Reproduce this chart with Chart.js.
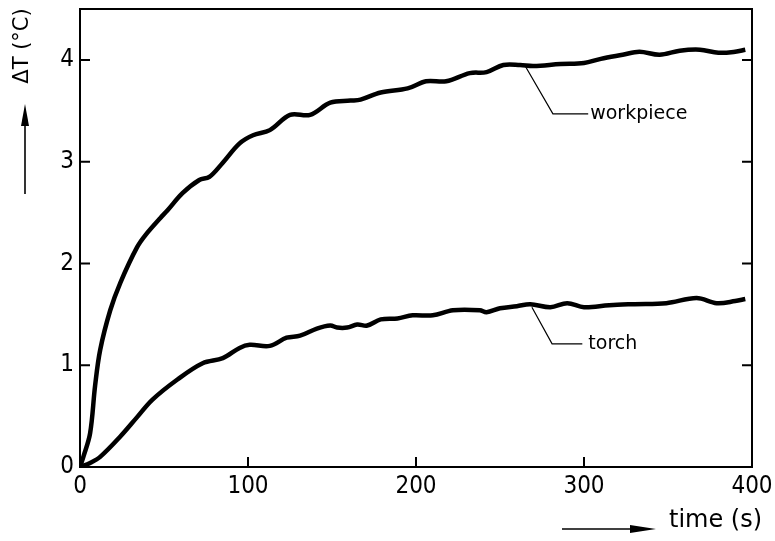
<!DOCTYPE html>
<html>
<head>
<meta charset="utf-8">
<script src="https://cdn.jsdelivr.net/npm/chart.js@4/dist/chart.umd.min.js"></script>
<style>
  html, body { margin: 0; padding: 0; background: #fff; }
  #wrap { width: 775px; height: 541px; }
</style>
</head>
<body>
<div id="wrap"><canvas id="myChart" width="775" height="541"></canvas></div>
<script>
// time (s) and temperature rise (°C)
const workTime = [0, 2, 6, 9, 12, 18, 24, 34, 40, 48, 52, 61, 71, 77, 85, 95, 103, 113, 125, 137, 149, 161, 167, 179, 195, 206, 218, 232, 242, 252, 262, 270, 286, 300, 310, 323, 333, 345, 357, 369, 380, 390, 396];
const workTemp = [0, 0.1, 0.33, 0.8, 1.15, 1.54, 1.81, 2.16, 2.3, 2.45, 2.52, 2.69, 2.82, 2.85, 2.99, 3.18, 3.26, 3.31, 3.46, 3.46, 3.58, 3.6, 3.61, 3.68, 3.72, 3.79, 3.79, 3.87, 3.88, 3.95, 3.95, 3.94, 3.96, 3.97, 4.01, 4.05, 4.08, 4.05, 4.09, 4.1, 4.07, 4.08, 4.1];

const torchTime = [0, 6, 12, 24, 34, 43, 58, 73, 85, 95, 101, 113, 123, 131, 141, 149, 153, 159, 165, 171, 179, 189, 198, 210, 222, 238, 242, 250, 260, 268, 280, 290, 300, 315, 330, 349, 367, 379, 390, 396];
const torchTemp = [0, 0.04, 0.1, 0.3, 0.49, 0.66, 0.86, 1.02, 1.07, 1.17, 1.2, 1.19, 1.27, 1.29, 1.36, 1.39, 1.37, 1.37, 1.4, 1.39, 1.45, 1.46, 1.49, 1.49, 1.54, 1.54, 1.52, 1.56, 1.58, 1.6, 1.57, 1.61, 1.57, 1.59, 1.6, 1.61, 1.66, 1.61, 1.63, 1.65];

const xTicks = [100, 200, 300];
const yTicks = [1, 2, 3, 4];

// curve labels with leader lines: [from curve] -> [knee] -> [end of line]
const curveLabels = [
  { text: 'workpiece', gap: 2, pts: [[265, 3.94], [281.5, 3.47], [302.5, 3.47]] },
  { text: 'torch', gap: 6, pts: [[269, 1.57], [281, 1.21], [299, 1.21]] }
];

const FONT = '"DejaVu Sans", sans-serif';
const TICKFONT = '"DejaVu Sans Condensed", "DejaVu Sans", sans-serif';

function toXY(xs, ys) {
  return xs.map((x, i) => ({ x: x, y: ys[i] }));
}

function noPad(scale) {
  scale.paddingTop = 0;
  scale.paddingBottom = 0;
  scale.paddingLeft = 0;
  scale.paddingRight = 0;
}

const decor = {
  id: 'decor',
  afterDraw(chart) {
    const c = chart.ctx;
    const a = chart.chartArea;
    const sx = chart.scales.x;
    const sy = chart.scales.y;
    c.save();
    c.strokeStyle = '#000';
    c.fillStyle = '#000';

    // frame
    c.lineWidth = 2;
    c.strokeRect(a.left, a.top, a.right - a.left, a.bottom - a.top);

    // inward ticks
    c.beginPath();
    yTicks.forEach(v => {
      const py = sy.getPixelForValue(v);
      c.moveTo(a.left, py); c.lineTo(a.left + 10, py);
      c.moveTo(a.right, py); c.lineTo(a.right - 10, py);
    });
    xTicks.forEach(v => {
      const px = sx.getPixelForValue(v);
      c.moveTo(px, a.bottom); c.lineTo(px, a.bottom - 10);
    });
    c.stroke();

    // leader lines + labels
    c.lineWidth = 1.2;
    c.font = '19px ' + FONT;
    c.textBaseline = 'middle';
    curveLabels.forEach(l => {
      c.beginPath();
      l.pts.forEach((p, i) => {
        const px = sx.getPixelForValue(p[0]);
        const py = sy.getPixelForValue(p[1]);
        if (i === 0) c.moveTo(px, py); else c.lineTo(px, py);
      });
      c.stroke();
      const last = l.pts[l.pts.length - 1];
      c.fillText(l.text, sx.getPixelForValue(last[0]) + l.gap, sy.getPixelForValue(last[1]));
    });

    // y axis title, rotated, with arrow below it
    c.save();
    c.translate(23, 46);
    c.rotate(-Math.PI / 2);
    c.textAlign = 'center';
    c.textBaseline = 'middle';
    c.font = '21px ' + FONT;
    c.fillText('ΔT (°C)', 0, 0);
    c.restore();

    c.lineWidth = 1.6;
    c.beginPath();
    c.moveTo(25, 194); c.lineTo(25, 118);
    c.stroke();
    c.beginPath();
    c.moveTo(25, 104); c.lineTo(21, 126); c.lineTo(29, 126);
    c.closePath(); c.fill();

    // x axis title with arrow
    c.beginPath();
    c.moveTo(562, 529); c.lineTo(635, 529);
    c.stroke();
    c.beginPath();
    c.moveTo(656, 529); c.lineTo(630, 525); c.lineTo(630, 533);
    c.closePath(); c.fill();

    c.font = '24px ' + FONT;
    c.textAlign = 'left';
    c.textBaseline = 'middle';
    c.fillText('time (s)', 669, 521);
    c.restore();
  }
};

const ctx = document.getElementById('myChart');
let myChart = new Chart(ctx, {
  type: 'line',
  data: {
    datasets: [{
      label: 'workpiece',
      data: toXY(workTime, workTemp),
      borderColor: '#000',
      borderWidth: 4.5,
      pointRadius: 0,
      tension: 0.35,
      fill: false
    }, {
      label: 'torch',
      data: toXY(torchTime, torchTemp),
      borderColor: '#000',
      borderWidth: 4.5,
      pointRadius: 0,
      tension: 0.35,
      fill: false
    }]
  },
  options: {
    responsive: false,
    animation: false,
    devicePixelRatio: 1,
    layout: { padding: { top: 9, right: 23, left: 0, bottom: 0 } },
    plugins: {
      legend: { display: false },
      tooltip: { enabled: false }
    },
    scales: {
      x: {
        type: 'linear',
        min: 0,
        max: 400,
        grid: { display: false, drawTicks: false },
        border: { display: false },
        ticks: {
          stepSize: 100,
          padding: 5,
          color: '#000',
          font: { family: TICKFONT, size: 24 },
          maxRotation: 0
        },
        afterFit(scale) { scale.height = 74; noPad(scale); }
      },
      y: {
        type: 'linear',
        min: 0,
        max: 4.5,
        grid: { display: false, drawTicks: false },
        border: { display: false },
        ticks: {
          stepSize: 1,
          padding: 6,
          color: '#000',
          font: { family: TICKFONT, size: 24 },
          callback: v => (Number.isInteger(v) ? v : '')
        },
        afterFit(scale) { scale.width = 80; noPad(scale); }
      }
    }
  },
  plugins: [decor]
});
</script>
</body>
</html>
